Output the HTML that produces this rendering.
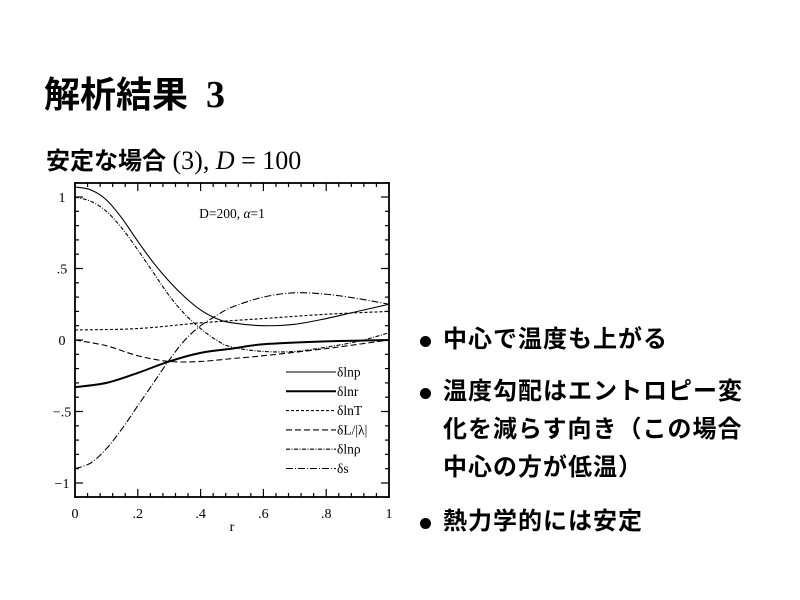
<!DOCTYPE html>
<html><head><meta charset="utf-8">
<style>
html,body{margin:0;padding:0;background:#fff;}
body{width:800px;height:600px;position:relative;overflow:hidden;font-family:"Liberation Serif","Noto Sans CJK JP",serif;color:#000;}
.t{position:absolute;white-space:nowrap;}
.jp{font-family:"Liberation Serif","Noto Sans CJK JP",sans-serif;font-weight:bold;}
.b{position:absolute;width:11px;height:11px;border-radius:50%;background:#000;}
.bl{letter-spacing:1px;font-size:24px;line-height:38px;}
</style></head><body>
<div class="t jp" style="left:44px;top:66px;font-size:36px;">解析結果<span style="font-family:'Liberation Serif',serif;font-size:38px;margin-left:18px;">3</span></div>
<div class="t jp" style="left:46px;top:141px;font-size:24px;">安定な場合<span style="font-family:'Liberation Serif',serif;font-weight:normal;font-size:26px;"> (3), <i>D</i> = 100</span></div>

<svg style="position:absolute;left:0;top:0" width="800" height="600" id="sv">
<rect x="75" y="183" width="314" height="314" fill="none" stroke="#000" stroke-width="1.8"/>
<g id="ticks" stroke="#000" stroke-width="1.2"></g>
<g font-family="Liberation Serif,serif" font-size="14" text-anchor="middle" id="lab"></g>
<text x="232" y="218" font-family="Liberation Serif,serif" font-size="13.5" text-anchor="middle">D=200,  <tspan font-style="italic">α</tspan>=1</text>
<text x="232" y="531" font-family="Liberation Serif,serif" font-size="14" text-anchor="middle">r</text>
<g id="curves" fill="none" stroke="#000" stroke-width="1"></g>
<g id="leg" font-family="Liberation Serif,serif" font-size="13.5"></g>
</svg>

<div class="b" style="left:420px;top:336px"></div>
<div class="t jp bl" style="left:443px;top:321px;">中心で温度も上がる</div>
<div class="b" style="left:420px;top:388px"></div>
<div class="t jp bl" style="left:443px;top:373px;">温度勾配はエントロピー変<br>化を減らす向き（この場合<br>中心の方が低温）</div>
<div class="b" style="left:420px;top:518px"></div>
<div class="t jp bl" style="left:443px;top:503px;">熱力学的には安定</div>

<script>
var NS="http://www.w3.org/2000/svg";
function X(r){return 75+314*r;}function Y(v){return 340-143*v;}
function el(p,t,a,txt){var e=document.createElementNS(NS,t);for(var k in a)e.setAttribute(k,a[k]);if(txt!==undefined)e.textContent=txt;document.getElementById(p).appendChild(e);return e;}
for(var i=0;i<=25;i++){var r=i/25,big=(i%5==0),L=big?8:4,x=X(r);
 el("ticks","line",{x1:x,y1:497,x2:x,y2:497-L});el("ticks","line",{x1:x,y1:183,x2:x,y2:183+L});}
for(var v=-1.1;v<=1.101;v+=0.1){var k=Math.round(v*10),big=(k%5==0),L=big?8:4,y=Y(k/10);
 el("ticks","line",{x1:75,y1:y,x2:75+L,y2:y});el("ticks","line",{x1:389,y1:y,x2:389-L,y2:y});}
[["0",0],[".2",.2],[".4",.4],[".6",.6],[".8",.8],["1",1]].forEach(function(a){el("lab","text",{x:X(a[1]),y:518},a[0]);});
[["1",1],[".5",.5],["0",0],["−.5",-.5],["−1",-1]].forEach(function(a){el("lab","text",{x:62,y:Y(a[1])+5,"text-anchor":"middle"},a[0]);});
function path(pts){var P=pts.map(function(p){return [X(p[0]),Y(p[1])];});var d="M"+P[0][0]+","+P[0][1];
 for(var i=0;i<P.length-1;i++){var p0=P[i-1]||P[i],p1=P[i],p2=P[i+1],p3=P[i+2]||P[i+1];
 d+=" C"+(p1[0]+(p2[0]-p0[0])/6)+","+(p1[1]+(p2[1]-p0[1])/6)+" "+(p2[0]-(p3[0]-p1[0])/6)+","+(p2[1]-(p3[1]-p1[1])/6)+" "+p2[0]+","+p2[1];}return d;}
var C=[
 {p:[[0,1.07],[.05,1.05],[.1,.98],[.15,.85],[.2,.69],[.25,.54],[.3,.41],[.35,.3],[.4,.21],[.45,.15],[.5,.12],[.6,.1],[.7,.11],[.8,.15],[.9,.2],[1,.25]],w:1.1,da:""},
 {p:[[0,-.33],[.1,-.3],[.2,-.23],[.3,-.15],[.4,-.09],[.5,-.06],[.6,-.03],[.8,-.01],[1,0]],w:2,da:""},
 {p:[[0,.07],[.2,.08],[.4,.12],[.6,.15],[.8,.18],[1,.2]],w:1.1,da:"3,2"},
 {p:[[0,0],[.1,-.04],[.2,-.11],[.3,-.15],[.4,-.15],[.5,-.13],[.6,-.11],[.8,-.06],[1,0]],w:1.1,da:"6,3"},
 {p:[[0,1.0],[.05,.97],[.1,.9],[.15,.78],[.2,.63],[.25,.47],[.3,.31],[.35,.18],[.4,.08],[.45,0],[.5,-.05],[.6,-.08],[.7,-.08],[.8,-.05],[.9,-.01],[1,.05]],w:1.1,da:"4,1.5,1,1.5"},
 {p:[[0,-.9],[.05,-.86],[.1,-.76],[.15,-.62],[.2,-.46],[.25,-.3],[.3,-.14],[.35,0],[.4,.1],[.45,.17],[.5,.23],[.6,.3],[.7,.33],[.8,.32],[.9,.29],[1,.25]],w:1.1,da:"7,2,1,2"}
];
C.forEach(function(c){el("curves","path",{d:path(c.p),"stroke-width":c.w,"stroke-dasharray":c.da});});
var names=["δlnp","δlnr","δlnT","δL/|λ|","δlnρ","δs"];
for(var i=0;i<6;i++){var y=372+i*19.3;el("curves","line",{x1:286,y1:y,x2:336,y2:y,"stroke-width":C[i].w,"stroke-dasharray":C[i].da});
 el("leg","text",{x:337,y:y+4.5},names[i]);}
</script>
</body></html>
